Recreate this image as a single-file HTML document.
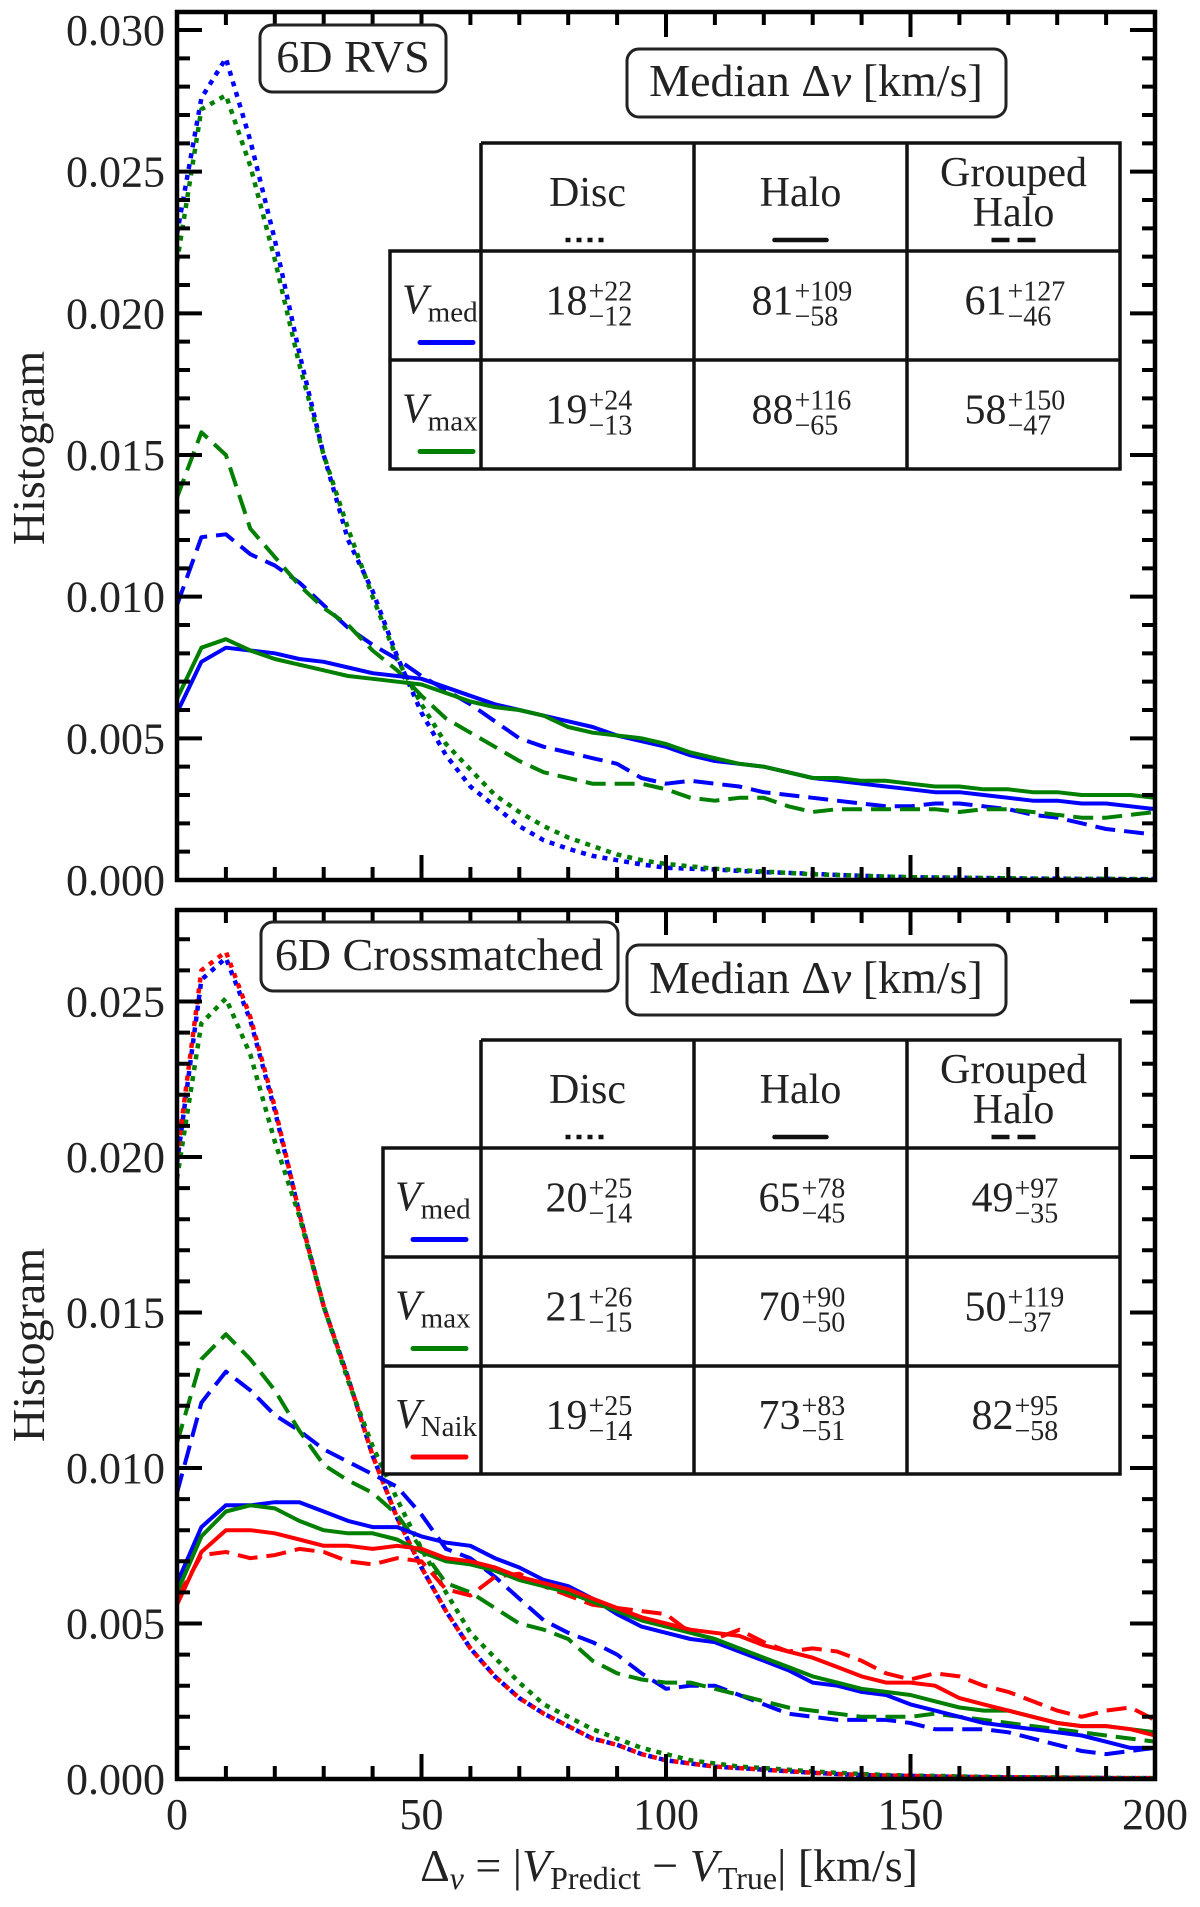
<!DOCTYPE html>
<html><head><meta charset="utf-8"><style>
html,body{margin:0;padding:0;background:#fff}
svg{display:block}
svg text, svg tspan{font-family:"Liberation Serif","DejaVu Serif",serif;fill:#222}
</style></head><body>
<svg id="fig" width="1200" height="1907" viewBox="0 0 1200 1907" xmlns="http://www.w3.org/2000/svg" font-family="Liberation Serif, DejaVu Serif, serif">
<defs>
<clipPath id="clipTop"><rect x="177" y="12" width="978" height="868"/></clipPath>
<clipPath id="clipBot"><rect x="177" y="910" width="978" height="869"/></clipPath>
</defs>
<g id="topLines" clip-path="url(#clipTop)"></g>
<g id="botLines" clip-path="url(#clipBot)"></g>
<g id="axes"></g>
</svg>
<script>
const xKm = [0,5,10,15,20,25,30,35,40,45,50,55,60,65,70,75,80,85,90,95,100,105,110,115,120,125,130,135,140,145,150,155,160,165,170,175,180,185,190,195,200];

// ---- Top panel (6D RVS) ----
const topMedDisc = [0.0228,0.0276,0.0290,0.0261,0.0226,0.0186,0.0150,0.0120,0.0102,0.0079,0.0059,0.0044,0.0033,0.0026,0.0019,0.0014,0.0011,0.00085,0.0007,0.00055,0.00043,0.0004,0.00037,0.00032,0.00028,0.00025,0.00022,0.00018,0.00015,0.00012,0.0001,0.00009,0.00008,0.00007,0.00006,0.00005,0.00005,0.00004,0.00004,0.00003,0.00003];
const topMaxDisc = [0.0218,0.0272,0.0277,0.0252,0.0219,0.0182,0.0150,0.0124,0.0100,0.0078,0.0062,0.0048,0.0039,0.0030,0.0024,0.0019,0.0015,0.0012,0.0009,0.0007,0.00057,0.00048,0.0004,0.00035,0.0003,0.00025,0.0002,0.00018,0.00015,0.00012,0.0001,0.00009,0.00008,0.00007,0.00006,0.00005,0.00005,0.00004,0.00004,0.00003,0.00003];
const topMedHalo = [0.0059,0.0077,0.0082,0.0081,0.0080,0.0078,0.0077,0.0075,0.0073,0.0072,0.0071,0.0068,0.0065,0.0062,0.0060,0.0058,0.0056,0.0054,0.0051,0.0049,0.0047,0.0044,0.0042,0.0041,0.0040,0.0038,0.0036,0.0035,0.0034,0.0033,0.0032,0.0031,0.0031,0.0030,0.0029,0.0028,0.0028,0.0027,0.0027,0.0026,0.0025];
const topMaxHalo = [0.0064,0.0082,0.0085,0.0081,0.0078,0.0076,0.0074,0.0072,0.0071,0.0070,0.0069,0.0066,0.0063,0.0061,0.0060,0.0058,0.0054,0.0052,0.0051,0.0050,0.0048,0.0045,0.0043,0.0041,0.0040,0.0038,0.0036,0.0036,0.0035,0.0035,0.0034,0.0033,0.0033,0.0032,0.0032,0.0031,0.0031,0.0030,0.0030,0.0030,0.0029];
const topMedGroup = [0.0097,0.0121,0.0122,0.0115,0.0111,0.0105,0.0097,0.0089,0.0083,0.0078,0.0072,0.0067,0.0062,0.0056,0.0050,0.0047,0.0045,0.0043,0.0041,0.0036,0.0034,0.0035,0.0034,0.0033,0.0031,0.0030,0.0029,0.0028,0.0027,0.0026,0.0026,0.0027,0.0027,0.0026,0.0025,0.0023,0.0022,0.0020,0.0018,0.0017,0.0016];
const topMaxGroup = [0.0135,0.0158,0.0150,0.0124,0.0114,0.0104,0.0096,0.0090,0.0081,0.0074,0.0065,0.0057,0.0052,0.0047,0.0042,0.0038,0.0036,0.0034,0.0034,0.0034,0.0032,0.0029,0.0028,0.0029,0.0029,0.0026,0.0024,0.0025,0.0025,0.0025,0.0025,0.0025,0.0024,0.0025,0.0025,0.0024,0.0023,0.0022,0.0022,0.0023,0.0024];

// ---- Bottom panel (6D Crossmatched) ----
const botMedDisc = [0.0198,0.0257,0.0264,0.0244,0.0215,0.0182,0.0152,0.0129,0.0104,0.0084,0.0068,0.0054,0.0042,0.0033,0.0026,0.0021,0.0017,0.0013,0.0011,0.0008,0.0006,0.0005,0.0004,0.00035,0.0003,0.00025,0.0002,0.00016,0.00013,0.00011,0.0001,0.00008,0.00007,0.00006,0.00005,0.00005,0.00004,0.00004,0.00003,0.00003,0.00003];
const botMaxDisc = [0.0193,0.0243,0.0251,0.0233,0.0205,0.0181,0.0152,0.0128,0.0107,0.0090,0.0074,0.0060,0.0047,0.0039,0.0031,0.0024,0.0020,0.0016,0.0013,0.0010,0.0008,0.0006,0.0005,0.0004,0.00035,0.0003,0.00024,0.0002,0.00016,0.00013,0.00011,0.0001,0.00008,0.00007,0.00006,0.00005,0.00005,0.00004,0.00004,0.00003,0.00003];
const botNaikDisc = [0.0200,0.0260,0.0266,0.0245,0.0216,0.0182,0.0152,0.0129,0.0104,0.0084,0.0068,0.0054,0.0042,0.0033,0.0026,0.0021,0.0017,0.0013,0.0011,0.0008,0.0006,0.0005,0.0004,0.00035,0.0003,0.00025,0.0002,0.00016,0.00013,0.00011,0.0001,0.00008,0.00007,0.00006,0.00005,0.00005,0.00004,0.00004,0.00003,0.00003,0.00003];
const botMedHalo = [0.0063,0.0081,0.0088,0.0088,0.0089,0.0089,0.0086,0.0083,0.0081,0.0081,0.0078,0.0076,0.0075,0.0071,0.0068,0.0064,0.0062,0.0058,0.0053,0.0049,0.0047,0.0045,0.0044,0.0041,0.0038,0.0035,0.0031,0.0030,0.0028,0.0027,0.0024,0.0022,0.0020,0.0018,0.0017,0.0016,0.0015,0.0014,0.0012,0.0010,0.0010];
const botMaxHalo = [0.0060,0.0078,0.0086,0.0088,0.0087,0.0083,0.0080,0.0079,0.0079,0.0077,0.0073,0.0070,0.0069,0.0067,0.0064,0.0062,0.0060,0.0057,0.0054,0.0051,0.0049,0.0047,0.0045,0.0042,0.0039,0.0036,0.0033,0.0031,0.0029,0.0028,0.0027,0.0025,0.0023,0.0022,0.0022,0.0020,0.0018,0.0017,0.0017,0.0016,0.0015];
const botNaikHalo = [0.0056,0.0073,0.0080,0.0080,0.0079,0.0077,0.0075,0.0075,0.0074,0.0075,0.0074,0.0071,0.0070,0.0068,0.0065,0.0063,0.0061,0.0058,0.0055,0.0052,0.0050,0.0048,0.0047,0.0046,0.0043,0.0041,0.0039,0.0036,0.0033,0.0031,0.0031,0.0030,0.0026,0.0024,0.0022,0.0020,0.0018,0.0017,0.0017,0.0016,0.0014];
const botMedGroup = [0.0092,0.0121,0.0131,0.0125,0.0117,0.0112,0.0106,0.0102,0.0098,0.0094,0.0085,0.0074,0.0071,0.0065,0.0058,0.0051,0.0047,0.0044,0.0040,0.0034,0.0029,0.0030,0.0030,0.0027,0.0024,0.0021,0.0020,0.0019,0.0019,0.0019,0.0018,0.0016,0.0016,0.0016,0.0015,0.0013,0.0011,0.0009,0.0008,0.0009,0.0010];
const botMaxGroup = [0.0108,0.0135,0.0143,0.0135,0.0125,0.0112,0.0101,0.0096,0.0092,0.0085,0.0074,0.0063,0.0060,0.0055,0.0050,0.0048,0.0045,0.0038,0.0034,0.0032,0.0031,0.0031,0.0029,0.0027,0.0025,0.0023,0.0022,0.0021,0.0020,0.0020,0.0020,0.0021,0.0020,0.0019,0.0018,0.0017,0.0016,0.0015,0.0014,0.0013,0.0012];
const botNaikGroup = [0.0058,0.0072,0.0073,0.0071,0.0072,0.0074,0.0073,0.0070,0.0069,0.0071,0.0070,0.0061,0.0059,0.0065,0.0066,0.0062,0.0059,0.0056,0.0055,0.0054,0.0053,0.0047,0.0045,0.0048,0.0044,0.0041,0.0042,0.0041,0.0038,0.0034,0.0032,0.0034,0.0033,0.0030,0.0028,0.0025,0.0022,0.0020,0.0022,0.0023,0.0019];

const topYTicks = ["0.000","0.005","0.010","0.015","0.020","0.025","0.030"];
const botYTicks = ["0.000","0.005","0.010","0.015","0.020","0.025"];
const xTickLabels = ["0","50","100","150","200"];

const topTable = [["18","+22","−12"],["81","+109","−58"],["61","+127","−46"],["19","+24","−13"],["88","+116","−65"],["58","+150","−47"]];
const botTable = [["20","+25","−14"],["65","+78","−45"],["49","+97","−35"],["21","+26","−15"],["70","+90","−50"],["50","+119","−37"],["19","+25","−14"],["73","+83","−51"],["82","+95","−58"]];

const NS = "http://www.w3.org/2000/svg";
const X0 = 177, X1 = 1155;
function xScale(v){ return X0 + v/200*(X1-X0); }
function topY(v){ return 880 - v/0.030*850; }
function botY(v){ return 1779 - v/0.005*155.5; }
function mk(tag, attrs, parent){
  const e = document.createElementNS(NS, tag);
  for (const k in attrs) e.setAttribute(k, attrs[k]);
  parent.appendChild(e); return e;
}
const BLUE="#0000ff", GREEN="#007f00", RED="#ff0000";
const DASH = "20 9", DOT = "5 6";

function drawSeries(parent, ys, yFn, color, dash, name){
  let d = "";
  ys.forEach((v,i)=>{ d += (i? "L":"M") + xScale(xKm[i]).toFixed(1) + "," + yFn(v).toFixed(1); });
  const p = mk("path", {d:d, fill:"none", stroke:color, "stroke-width": dash===DOT?4.5:4, "stroke-dasharray": dash||"none", "stroke-linejoin":"round"}, parent);
  
  
}
const tl = document.getElementById("topLines");
drawSeries(tl, topMedDisc, topY, BLUE, DOT, "top-vmed-disc-line");
drawSeries(tl, topMaxDisc, topY, GREEN, DOT, "top-vmax-disc-line");
drawSeries(tl, topMedGroup, topY, BLUE, DASH, "top-vmed-grouped-line");
drawSeries(tl, topMaxGroup, topY, GREEN, DASH, "top-vmax-grouped-line");
drawSeries(tl, topMedHalo, topY, BLUE, null, "top-vmed-halo-line");
drawSeries(tl, topMaxHalo, topY, GREEN, null, "top-vmax-halo-line");
const bl = document.getElementById("botLines");
drawSeries(bl, botMedDisc, botY, BLUE, DOT, "bottom-vmed-disc-line");
drawSeries(bl, botMaxDisc, botY, GREEN, DOT, "bottom-vmax-disc-line");
drawSeries(bl, botNaikDisc, botY, RED, DOT, "bottom-vnaik-disc-line");
drawSeries(bl, botMedGroup, botY, BLUE, DASH, "bottom-vmed-grouped-line");
drawSeries(bl, botMaxGroup, botY, GREEN, DASH, "bottom-vmax-grouped-line");
drawSeries(bl, botNaikGroup, botY, RED, DASH, "bottom-vnaik-grouped-line");
drawSeries(bl, botMedHalo, botY, BLUE, null, "bottom-vmed-halo-line");
drawSeries(bl, botMaxHalo, botY, GREEN, null, "bottom-vmax-halo-line");
drawSeries(bl, botNaikHalo, botY, RED, null, "bottom-vnaik-halo-line");

// ---- axes ----
const ax = document.getElementById("axes");
function drawAxes(top, bottom, yFn, yLabels, step, showX, prefix){
  const f = mk("rect", {x:X0, y:top, width:X1-X0, height:bottom-top, fill:"none", stroke:"#000", "stroke-width":4.5}, ax);
  
  
  let d = "";
  for (let v=0; v<=200.001; v+=10){
    const x = xScale(v), L = (v%50===0)?25:13;
    d += `M${x},${bottom}V${bottom-L}M${x},${top}V${top+L}`;
  }
  const maxV = (yLabels.length-1)*step;
  const n = Math.round(maxV/ (step/5));
  for (let i=0;i<=n+4;i++){
    const v = i*step/5, y = yFn(v);
    if (y < top+2) break;
    const L = (i%5===0)?25:13;
    d += `M${X0},${y}H${X0+L}M${X1},${y}H${X1-L}`;
  }
  const t = mk("path", {d:d, stroke:"#000", "stroke-width":4, fill:"none"}, ax);
  
  
  yLabels.forEach((lab,i)=>{
    const e = mk("text", {x:165, y:yFn(i*step)+15, "text-anchor":"end", "font-size":44}, ax);
    e.textContent = lab;
    
    
  });
  if (showX){
    xTickLabels.forEach(lab=>{
      const e = mk("text", {x:xScale(+lab), y:1829, "text-anchor":"middle", "font-size":44}, ax);
      e.textContent = lab;
      
      
    });
  }
}
drawAxes(12, 880, topY, topYTicks, 0.005, false, "top");
drawAxes(910, 1779, botY, botYTicks, 0.005, true, "bottom");
</script>

<svg style="position:absolute;left:0;top:0" width="1200" height="1907" viewBox="0 0 1200 1907" xmlns="http://www.w3.org/2000/svg" font-family="Liberation Serif, DejaVu Serif, serif">
  <text transform="translate(44,448) rotate(-90)" text-anchor="middle" font-size="46">Histogram</text>
  <text transform="translate(44,1345) rotate(-90)" text-anchor="middle" font-size="46">Histogram</text>
  <text x="669" y="1881" text-anchor="middle" font-size="46">Δ<tspan font-style="italic" font-size="32" dy="8">v</tspan><tspan dy="-8"> = |</tspan><tspan font-style="italic">V</tspan><tspan font-size="32" dy="8">Predict</tspan><tspan dy="-8"> − </tspan><tspan font-style="italic">V</tspan><tspan font-size="32" dy="8">True</tspan><tspan dy="-8">| [km/s]</tspan></text>

  <g>
    <rect x="260" y="25" width="186" height="67" rx="12" fill="#fff" stroke="#222" stroke-width="3"/>
    <text x="353" y="72" text-anchor="middle" font-size="46">6D RVS</text>
  </g>
  <g>
    <rect x="627" y="49" width="379" height="68" rx="12" fill="#fff" stroke="#222" stroke-width="3"/>
    <text x="816" y="96" text-anchor="middle" font-size="46">Median  Δ<tspan font-style="italic">v</tspan> [km/s]</text>
  </g>
  <g>
    <rect x="261" y="922" width="357" height="69" rx="12" fill="#fff" stroke="#222" stroke-width="3"/>
    <text x="439" y="970" text-anchor="middle" font-size="46">6D Crossmatched</text>
  </g>
  <g>
    <rect x="627" y="945" width="379" height="70" rx="12" fill="#fff" stroke="#222" stroke-width="3"/>
    <text x="816" y="993" text-anchor="middle" font-size="46">Median  Δ<tspan font-style="italic">v</tspan> [km/s]</text>
  </g>
  <g id="tables"></g>
</svg>
<script>
(function(){
  const NS="http://www.w3.org/2000/svg";
  const g=document.getElementById("tables");
  function mk(tag,a,p){const e=document.createElementNS(NS,tag);for(const k in a)e.setAttribute(k,a[k]);p.appendChild(e);return e;}
  const colors=["#0000ff","#007f00","#ff0000"];
  const rowNames=["med","max","Naik"];
  function table(cols, rows, labelLeft, values, prefix){
    const tg = mk("g",{},g);
    
    
    const top=rows[0], hb=rows[1], last=rows[rows.length-1];
    let d=`M${cols[0]},${top}H${cols[3]}V${last}H${labelLeft}V${hb}H${cols[3]}`;
    cols.forEach(c=>{ d+=`M${c},${top}V${last}`; });
    d+=`M${labelLeft},${hb}V${last}`;
    for(let i=2;i<rows.length-1;i++) d+=`M${labelLeft},${rows[i]}H${cols[3]}`;
    mk("path",{d:d,fill:"#fff",stroke:"#111","stroke-width":3.5},tg);
    const cc=[0,1,2].map(i=>(cols[i]+cols[i+1])/2);
    let t=mk("text",{x:cc[0],y:top+63,"text-anchor":"middle","font-size":42},tg); t.textContent="Disc";
    t=mk("text",{x:cc[1],y:top+63,"text-anchor":"middle","font-size":42},tg); t.textContent="Halo";
    t=mk("text",{x:cc[2],y:top+43,"text-anchor":"middle","font-size":42},tg); t.textContent="Grouped";
    t=mk("text",{x:cc[2],y:top+83,"text-anchor":"middle","font-size":42},tg); t.textContent="Halo";
    const ly=top+97;
    mk("line",{x1:cc[0]-22,x2:cc[0]+22,y1:ly,y2:ly,stroke:"#111","stroke-width":4.5,"stroke-dasharray":"5 6"},tg);
    mk("line",{x1:cc[1]-26,x2:cc[1]+26,y1:ly,y2:ly,stroke:"#111","stroke-width":4.5,"stroke-linecap":"round"},tg);
    mk("line",{x1:cc[2]-22,x2:cc[2]+22,y1:ly,y2:ly,stroke:"#111","stroke-width":4.5,"stroke-dasharray":"18 8"},tg);
    for(let r=0;r<rows.length-2;r++){
      const y0=rows[r+1], y1=rows[r+2], c=(y0+y1)/2;
      const lab=mk("text",{x:labelLeft+12,y:c+8,"font-size":42},tg);
      const v=mk("tspan",{"font-style":"italic"},lab); v.textContent="V";
      const s=mk("tspan",{"font-size":29,dy:8},lab); s.textContent=rowNames[r];
      mk("line",{x1:labelLeft+30,x2:labelLeft+83,y1:c+37,y2:c+37,stroke:colors[r],"stroke-width":5,"stroke-linecap":"round"},tg);
      for(let k=0;k<3;k++){
        const val=values[r*3+k];
        const mw=val[0].length*21, sw=Math.max(val[1].length,val[2].length)*14;
        const start=cc[k]-(mw+sw)/2, sx=start+mw+1;
        let e=mk("text",{x:start,y:c+9,"font-size":42},tg); e.textContent=val[0];
        e=mk("text",{x:sx,y:c-5,"font-size":28},tg); e.textContent=val[1];
        e=mk("text",{x:sx,y:c+20,"font-size":28},tg); e.textContent=val[2];
      }
    }
  }
  table([481,694,907,1120],[143,251,360,469],390,topTable,"top");
  table([481,694,907,1120],[1040,1148,1257,1366,1474],383,botTable,"bottom");
})();
</script>
</body></html>
